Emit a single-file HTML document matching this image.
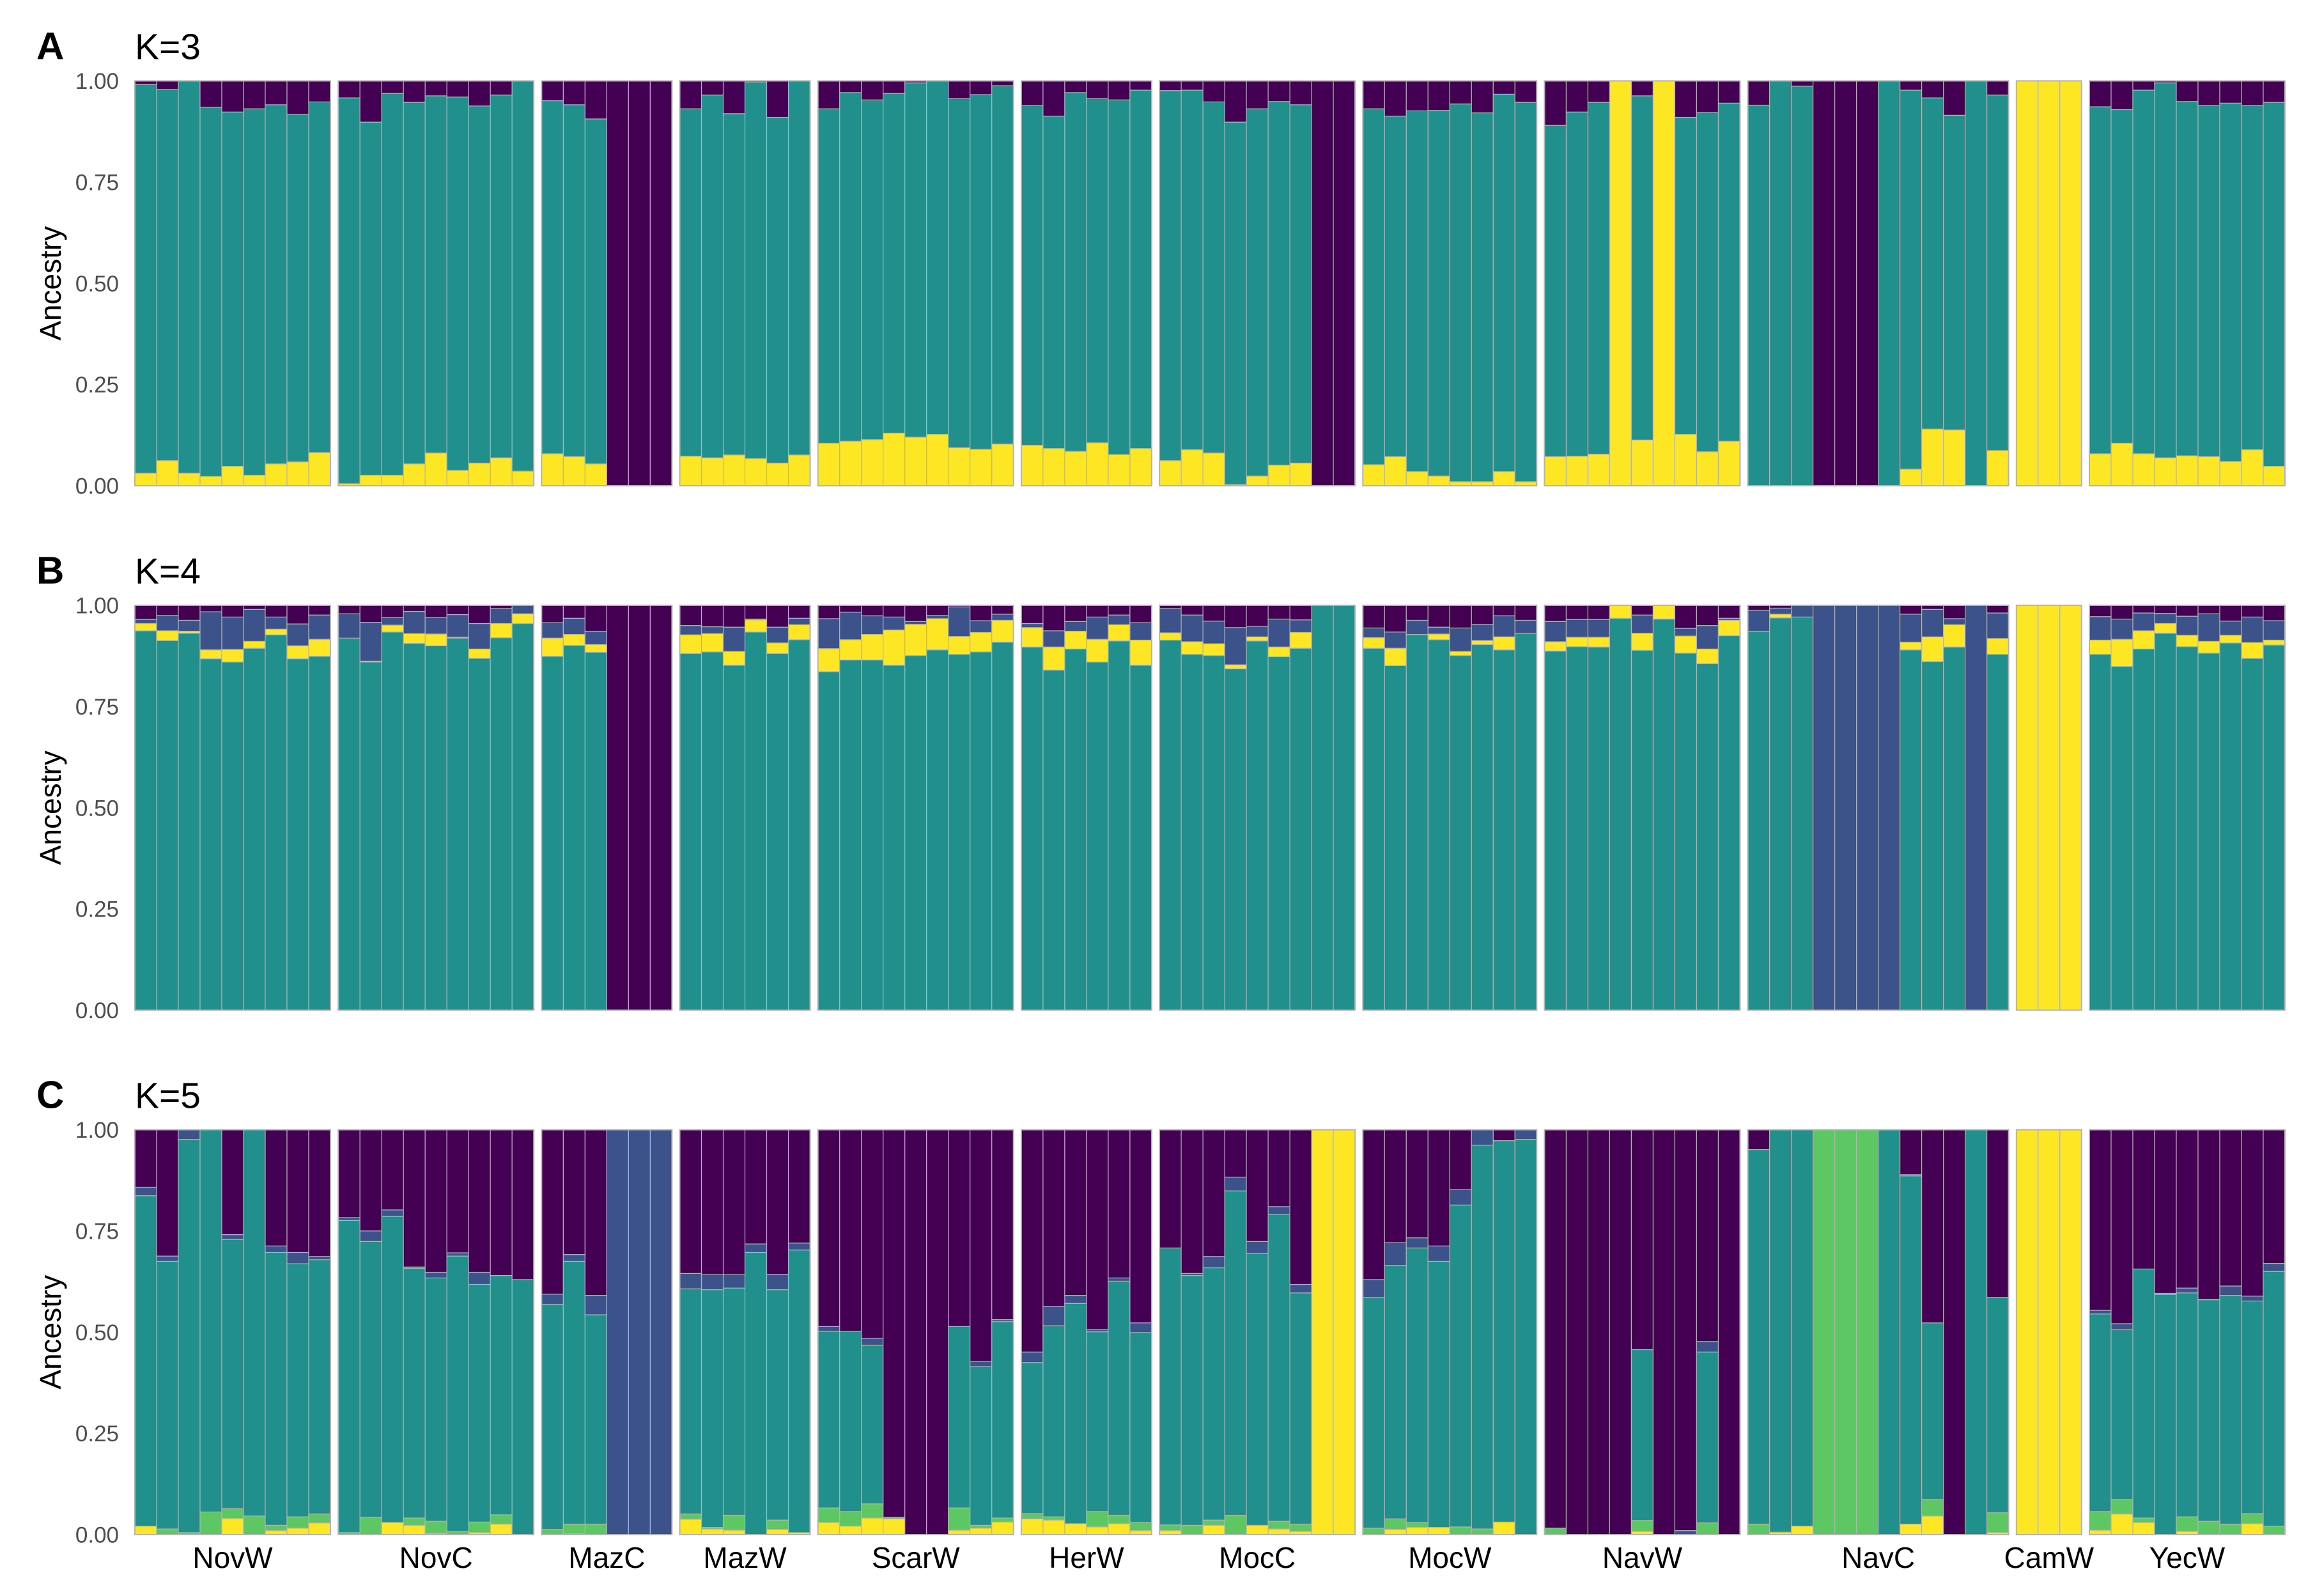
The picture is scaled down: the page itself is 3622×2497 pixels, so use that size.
<!DOCTYPE html>
<html><head><meta charset="utf-8"><title>Ancestry K=3,4,5</title>
<style>
html,body{margin:0;padding:0;background:#fff;}
svg{display:block;}
text{font-family:"Liberation Sans",sans-serif;}
</style></head>
<body>
<svg id="chart" xmlns="http://www.w3.org/2000/svg" width="3622" height="2497" viewBox="0 0 3622 2497"></svg>
<script>
// ---- data ----
const groups = ["NovW","NovC","MazC","MazW","ScarW","HerW","MocC","MocW","NavW","NavC","CamW","YecW"];
const groupCounts = [9,9,6,6,9,6,9,8,9,12,3,9];
const yTicks = [0,0.25,0.5,0.75,1];
const yTickLabels = ["0.00","0.25","0.50","0.75","1.00"];

// K=3 (yellow bottom, teal middle, purple top)
const k3Yellow = [.031,.062,.031,.023,.048,.026,.054,.059,.082, .005,.026,.026,.054,.081,.038,.056,.069,.036, .079,.072,.054,0,0,0, .073,.069,.076,.067,.056,.076, .105,.110,.114,.130,.120,.127,.094,.090,.103, .100,.092,.085,.106,.077,.092, .062,.089,.081,.003,.024,.051,.056,0,0, .052,.072,.035,.024,.010,.010,.035,.010, .072,.073,.078,1,.113,1,.127,.084,.110, 0,0,0,0,0,0,0,.041,.140,.138,0,.087, 1,1,1, .079,.105,.079,.069,.074,.072,.060,.089,.048];
const k3Purple = [.009,.021,0,.065,.077,.069,.059,.083,.052, .042,.102,.031,.053,.037,.040,.062,.035,0, .049,.059,.094,1,1,1, .069,.035,.081,.003,.090,0, .069,.029,.047,.031,.005,0,.044,.034,.012, .061,.087,.029,.044,.047,.023, .024,.023,.052,.102,.069,.051,.059,1,1, .069,.087,.074,.073,.057,.079,.033,.053, .110,.077,.053,0,.037,0,.090,.078,.055, .060,0,.013,1,1,1,0,.023,.042,.085,0,.035, 0,0,0, .064,.071,.023,.005,.051,.061,.055,.061,.053];

// K=4 (teal, yellow, blue, purple from bottom)
const k4Teal = [.937,.913,.931,.868,.860,.894,.927,.868,.874, .919,.860,.934,.906,.900,.919,.869,.920,.955, .874,.901,.884,0,0,0, .881,.885,.852,.934,.881,.915, .836,.865,.865,.852,.876,.890,.879,.885,.909, .897,.840,.892,.860,.912,.852, .914,.879,.876,.843,.912,.873,.894,1,1, .894,.851,.928,.915,.876,.903,.890,.931, .887,.898,.897,.968,.889,.966,.882,.856,.925, .936,.969,.971,0,0,0,0,.890,.861,.897,0,.879, 0,0,0, .879,.849,.892,.931,.898,.882,.907,.869,.902];
const k4Yellow = [.018,.024,.005,.022,.031,.017,.014,.032,.042, 0,.002,.017,.024,.029,.002,.023,.035,.024, .045,.027,.019,0,0,0, .046,.045,.034,.030,.026,.037, .057,.050,.063,.087,.077,.077,.044,.048,.054, .048,.057,.044,.056,.040,.062, .018,.031,.029,.010,.010,.024,.039,0,0, .026,.043,0,.014,.010,.010,.032,0, .023,.023,.024,.032,.042,.034,.042,.036,.038, 0,.009,0,0,0,0,0,.019,.061,.055,0,.039, 1,1,1, .035,.067,.045,.024,.028,.029,.019,.039,.012];
const k4Blue = [.010,.038,.027,.094,.080,.079,.030,.054,.060, .060,.096,.019,.055,.041,.056,.063,.037,.021, .038,.040,.033,0,0,0, .023,.017,.060,.002,.039,.016, .074,.068,.046,.032,.007,.008,.073,.029,.015, .010,.040,.024,.055,.024,.043, .060,.066,.056,.092,.026,.069,.031,0,0, .024,.040,.035,.017,.058,.040,.052,.032, .050,.044,.044,0,.045,0,.019,.058,.005, .052,.015,.029,1,1,1,1,.069,.068,.015,1,.063, 0,0,0, .058,.050,.044,.025,.047,.068,.035,.063,.048];

// K=5 (yellow, green, teal, blue, purple from bottom)
const k5Yellow = [.021,0,0,0,.040,0,.010,.016,.029, 0,0,.030,.023,.003,0,.005,.026,0, 0,.002,0,0,0,0, .038,.014,.011,0,.013,.005, .030,.021,.041,.039,0,0,.011,.016,.031, .039,.036,.027,.019,.027,.010, .010,0,.023,0,.023,.014,.008,1,1, 0,.013,.018,.018,0,0,.031,0, 0,0,0,0,.008,0,0,0,0, 0,.006,.021,0,0,0,0,.026,.046,0,0,.005, 1,1,1, .011,.051,.030,0,.008,0,0,.027,0];
const k5Green = [0,.014,.005,.056,.024,.046,.013,.028,.022, .005,.043,0,.018,.030,.008,.026,.023,0, .013,.024,.026,0,0,0, .013,.004,.037,0,.023,0, .036,.036,.035,.004,0,0,.055,.007,.010, .013,.008,0,.038,.021,.020, .014,.023,.013,.048,0,.019,.018,0,0, .016,.026,.012,0,.019,.014,0,0, .016,0,0,0,.027,0,0,.029,0, .026,0,0,1,1,1,0,0,.041,0,0,.049, 0,0,0, .046,.036,.011,0,.036,.033,.026,.025,.021];
const k5Teal = [.816,.661,.971,.944,.665,.954,.674,.625,.628, .771,.681,.756,.617,.601,.680,.587,.591,.630, .556,.649,.517,0,0,0, .556,.587,.561,.697,.569,.698, .436,.445,.392,0,0,0,.448,.392,.485, .373,.472,.544,.444,.578,.469, .684,.617,.623,.801,.671,.758,.571,0,0, .570,.626,.678,.657,.795,.948,.942,.976, 0,0,0,0,.422,0,0,.422,0, .925,.994,.979,0,0,0,1,.860,.436,0,1,.532, 0,0,0, .488,.419,.615,.593,.553,.547,.565,.525,.629];
const k5Blue = [.021,.013,.024,0,.012,0,.016,.028,.008, .007,.026,.016,.003,.014,.008,.030,0,0, .025,.017,.048,1,1,1, .038,.037,.033,.021,.038,.017, .012,0,.017,0,0,0,0,.013,.005, .026,.048,.020,.006,.008,.024, 0,.005,.028,.034,.030,.019,.021,0,0, .044,.056,.025,.038,.038,.038,0,.024, 0,0,0,0,0,0,.010,.026,0, 0,0,0,0,0,0,0,.003,0,0,0,0, 0,0,0, .009,.015,0,.003,.012,.001,.023,.012,.020];

// ---- drawing ----
const COL = {purple:"#440154", blue:"#3b528b", teal:"#21908c", green:"#5dc863", yellow:"#fde725"};
const svg = document.getElementById('chart');
const NS = "http://www.w3.org/2000/svg";
const X0 = 211, X1 = 3575, BW = 34;
const nBars = groupCounts.reduce((a,b)=>a+b,0);
const GAP = (X1 - X0 - nBars*BW) / (groupCounts.length - 1);
const PH = 633.5;

function mk(tag, attrs){ const e=document.createElementNS(NS,tag); for(const k in attrs) e.setAttribute(k,attrs[k]); return e; }
function barX(i){ let g=0, c=0; while(i>=c+groupCounts[g]){ c+=groupCounts[g]; g++; } return X0 + i*BW + g*GAP; }
function groupStart(g){ let c=0; for(let j=0;j<g;j++) c+=groupCounts[j]; return c; }

function panel(letter, kLabel, top, layers){
  const yS = v => top + PH*(1-v);
  const pg = mk('g',{});
  
  
  svg.appendChild(pg);
  const lt = mk('text',{x:57,y:top-34,'font-size':60,'font-weight':'bold',fill:'#000'});
  
  
  lt.textContent = letter; pg.appendChild(lt);
  const kt = mk('text',{x:211,y:top-34,'font-size':57,fill:'#000'});
  
  
  kt.textContent = kLabel; pg.appendChild(kt);
  yTicks.forEach((t,i)=>{
    const tt = mk('text',{x:186,y:yS(t)+12.5,'font-size':35,fill:'#4d4d4d','text-anchor':'end'});
    
    
    tt.textContent = yTickLabels[i]; pg.appendChild(tt);
  });
  const at = mk('text',{x:0,y:0,'font-size':46,fill:'#000','text-anchor':'middle',transform:`translate(95,${top+PH/2}) rotate(-90)`});
  
  
  at.textContent = 'Ancestry'; pg.appendChild(at);
  for(let i=0;i<nBars;i++){
    const x = barX(i);
    let cum = 0;
    layers.forEach(L=>{
      const v = L.vals(i);
      if(v<=0.0005) return;
      const y0 = yS(cum), y1 = yS(Math.min(1,cum+v));
      const r = mk('rect',{x:x,y:y1,width:BW,height:Math.max(0,y0-y1),fill:COL[L.color],stroke:'#b3b3b3','stroke-width':1.2});
      
      
      pg.appendChild(r);
      cum += v;
    });
  }
  groups.forEach((g,gi)=>{
    const s = groupStart(gi);
    const bx = barX(s);
    const fr = mk('rect',{x:bx,y:top,width:groupCounts[gi]*BW,height:PH,fill:'none',stroke:'#b3b3b3','stroke-width':2});
    
    
    pg.appendChild(fr);
  });
}

panel('A','K=3',126.5,[
  {color:'yellow', vals:i=>k3Yellow[i]},
  {color:'teal', vals:i=>Math.max(0,1-k3Yellow[i]-k3Purple[i])},
  {color:'purple', vals:i=>k3Purple[i]}
]);
panel('B','K=4',947,[
  {color:'teal', vals:i=>k4Teal[i]},
  {color:'yellow', vals:i=>k4Yellow[i]},
  {color:'blue', vals:i=>k4Blue[i]},
  {color:'purple', vals:i=>Math.max(0,1-k4Teal[i]-k4Yellow[i]-k4Blue[i])}
]);
panel('C','K=5',1767.5,[
  {color:'yellow', vals:i=>k5Yellow[i]},
  {color:'green', vals:i=>k5Green[i]},
  {color:'teal', vals:i=>k5Teal[i]},
  {color:'blue', vals:i=>k5Blue[i]},
  {color:'purple', vals:i=>Math.max(0,1-k5Yellow[i]-k5Green[i]-k5Teal[i]-k5Blue[i])}
]);

groups.forEach((g,gi)=>{
  const s = groupStart(gi);
  const cx = barX(s) + groupCounts[gi]*BW/2;
  const t = mk('text',{x:cx,y:2453,'font-size':46,fill:'#000','text-anchor':'middle'});
  
  
  t.textContent = g; svg.appendChild(t);
});
</script>
</body></html>
